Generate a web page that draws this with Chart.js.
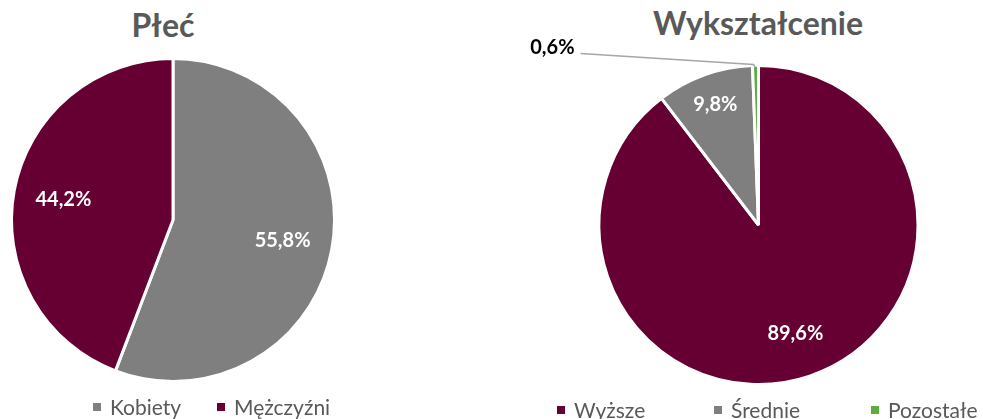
<!DOCTYPE html>
<html>
<head>
<meta charset="utf-8">
<script src="https://cdn.jsdelivr.net/npm/chart.js@4.4.1/dist/chart.umd.min.js"></script>
<style>
body { margin: 0; background: #fff; width: 983px; height: 419px; overflow: hidden; position: relative; font-family: Lato, "Open Sans", sans-serif; }
canvas { position: absolute; top: 0; }
.title { position: absolute; font-weight: bold; font-size: 32px; line-height: 36px; color: #595959; transform: translateX(-50%); white-space: nowrap; }
.legend { position: absolute; display: flex; font-size: 21px; line-height: 21px; color: #595959; white-space: nowrap; }
.item { display: flex; align-items: center; }
.box { width: 8px; height: 8px; margin-right: 9px; }
</style>
</head>
<body>
<div class="title" style="left:163px;top:7px">Płeć</div>
<div class="title" style="left:758px;top:5px">Wykształcenie</div>
<canvas id="plecChart" width="491" height="419" style="left:0"></canvas>
<canvas id="eduChart" width="492" height="419" style="left:491px"></canvas>
<div class="legend" id="plecLegend" style="left:93px;top:396px"></div>
<div class="legend" id="eduLegend" style="left:557px;top:399px"></div>
<script>
// Płeć
const plecLabels = ['Kobiety', 'Mężczyźni'];
const plecValues = [55.8, 44.2];
// Wykształcenie
const eduLabels = ['Wyższe', 'Średnie', 'Pozostałe'];
const eduValues = [89.6, 9.8, 0.6];

const MAROON = '#660033';
const GREY = '#7f7f7f';
const GREEN = '#5bae3b';

// percentage labels on slices (pos > 0: inside at fraction of radius, pos < 0: outside with leader line)
const sliceLabels = {
    id: 'sliceLabels',
    afterDatasetsDraw(chart, args, opts) {
        const ctx = chart.ctx;
        const meta = chart.getDatasetMeta(0);
        const vals = chart.data.datasets[0].data;
        meta.data.forEach((arc, i) => {
            const p = arc.getProps(['x', 'y', 'startAngle', 'endAngle', 'outerRadius'], true);
            const mid = (p.startAngle + p.endAngle) / 2;
            const text = vals[i].toFixed(1).replace('.', ',') + '%';
            const f = opts.pos[i];
            ctx.save();
            ctx.font = 'bold 20px Lato, "Open Sans", sans-serif';
            ctx.textBaseline = 'middle';
            if (f > 0) {
                const r = p.outerRadius * f;
                ctx.fillStyle = '#fff';
                ctx.textAlign = 'center';
                ctx.fillText(text, p.x + Math.cos(mid) * r, p.y + Math.sin(mid) * r);
            } else {
                const sx = p.x + Math.cos(mid) * (p.outerRadius - 2);
                const sy = p.y + Math.sin(mid) * (p.outerRadius - 2);
                const ex = sx - 175, ey = sy - 14;
                ctx.strokeStyle = '#a6a6a6';
                ctx.lineWidth = 1.5;
                ctx.beginPath();
                ctx.moveTo(sx, sy);
                ctx.lineTo(sx - 2, sy - 3);
                ctx.lineTo(ex, ey);
                ctx.stroke();
                ctx.fillStyle = '#000';
                ctx.textAlign = 'right';
                ctx.fillText(text, ex - 6, ey - 6);
            }
            ctx.restore();
        });
    }
};

function makePie(id, labels, values, colors, radius, padding, pos) {
    return new Chart(document.getElementById(id), {
        type: 'pie',
        data: {
            labels: labels,
            datasets: [{
                data: values,
                backgroundColor: colors,
                borderColor: '#fff',
                borderWidth: 3
            }]
        },
        options: {
            responsive: false,
            animation: false,
            radius: radius,
            layout: { padding: padding },
            plugins: {
                legend: { display: false },
                tooltip: { enabled: false },
                sliceLabels: { pos: pos }
            }
        },
        plugins: [sliceLabels]
    });
}

function makeLegend(id, labels, colors, itemWidth) {
    const el = document.getElementById(id);
    labels.forEach((lab, i) => {
        const item = document.createElement('div');
        item.className = 'item';
        item.style.width = itemWidth + 'px';
        item.innerHTML = '<span class="box" style="background:' + colors[i] + '"></span><span>' + lab + '</span>';
        el.appendChild(item);
    });
}

const plecColors = [GREY, MAROON];
const eduColors = [MAROON, GREY, GREEN];

makePie('plecChart', plecLabels, plecValues, plecColors, 161.5,
    { left: 0, right: 145, top: 21, bottom: 0 }, [0.69, 0.69]);
makePie('eduChart', eduLabels, eduValues, eduColors, 159.5,
    { left: 43, right: 0, top: 31, bottom: 0 }, [0.72, 0.8, -1]);

makeLegend('plecLegend', plecLabels, plecColors, 124);
makeLegend('eduLegend', eduLabels, eduColors, 157);
</script>
</body>
</html>
